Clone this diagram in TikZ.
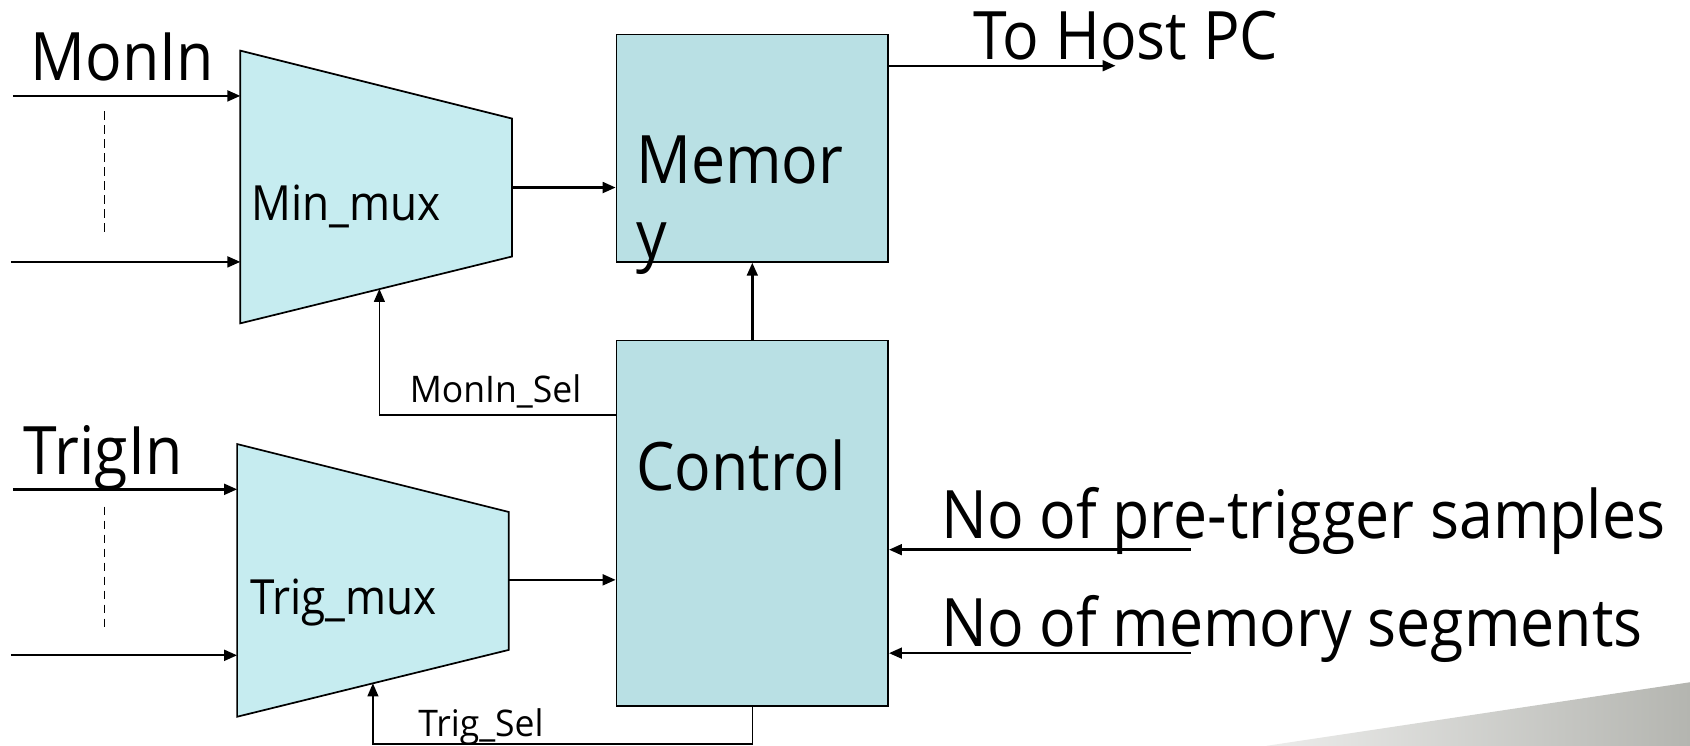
\documentclass[tikz,border=0pt]{standalone}
\usepackage{fontspec}
\setmainfont{Open Sans}[FakeStretch=0.91]
\newfontfamily\lblfont{Open Sans}[FakeStretch=0.97]
\usetikzlibrary{arrows.meta}
\definecolor{muxfill}{RGB}{198,236,240}
\definecolor{boxfill}{RGB}{185,224,228}
\definecolor{swoosh}{RGB}{180,181,176}
\tikzset{
  muxshape/.style={draw=black, line width=1.6pt, fill=muxfill, line join=miter},
  block/.style={draw=black, line width=1.6pt, fill=boxfill, rectangle, inner sep=0pt},
  wire/.style={line width=2.2pt, -{Triangle[length=12pt,width=10pt]}},
  selwire/.style={line width=1.4pt, -{Triangle[length=12pt,width=10pt]}},
  dots/.style={line width=1pt, dash pattern=on 8pt off 5pt},
  txt/.style={anchor=base west, inner sep=0pt, text=black},
  big/.style={txt, font=\fontsize{62}{70}\selectfont},
  mid/.style={txt, font=\fontsize{45}{50}\selectfont},
  small/.style={txt, font=\lblfont\fontsize{34}{38}\selectfont},
}
\begin{document}
\begin{tikzpicture}[x=1pt,y=1pt]
\useasboundingbox (0,0) rectangle (1568,692);

% decorative swoosh at the lower right
\shade[left color=swoosh!25, middle color=swoosh, right color=swoosh]
  (1175,0) -- (1568,59) -- (1568,0) -- cycle;

% input multiplexers
\path[muxshape] (223,645) -- (475,582) -- (475,454) -- (223,392) -- cycle;
\path[muxshape] (220,280) -- (472,217) -- (472,89) -- (220,27) -- cycle;
\coordinate (minin1) at (223,603);
\coordinate (minin2) at (223,449);
\coordinate (minout) at (475,518);
\coordinate (minsel) at (352,424);
\coordinate (trgin1) at (220,238);
\coordinate (trgin2) at (220,84);
\coordinate (trgout) at (472,154);
\coordinate (trgsel) at (346,58);

% memory and control blocks
\node[block, minimum width=252pt, minimum height=211pt] (mem) at (698,554.5) {};
\node[block, minimum width=252pt, minimum height=339pt] (ctl) at (698,206.5) {};

% labels
\node[big] (lmonin) at (28,617) {MonIn};
\node[big] (ltrigin) at (22,252) {TrigIn};
\node[mid] (lminmux) at (233,487) {Min\_mux};
\node[mid] (ltrgmux) at (232,122) {Trig\_mux};
\node[big] (lmem1) at (590,522) {Memor};
\node[big] (lmem2) at (590,452) {y};
\node[big] (lctl) at (590,237) {Control};
\node[big] (lhost) at (903,637) {To Host PC};
\node[small] (lmsel) at (380,319) {MonIn\_Sel};
\node[small] (ltsel) at (388,9) {Trig\_Sel};
\node[big] (lpre) at (873,192) {No of pre-trigger samples};
\node[big] (lseg) at (873,92) {No of memory segments};

% input lines
\coordinate (a1) at (12,603);
\coordinate (a2) at (10,449);
\coordinate (b1) at (12,238);
\coordinate (b2) at (10,84);
\draw[wire] (a1) -- (minin1);
\draw[wire] (a2) -- (minin2);
\draw[wire] (b1) -- (trgin1);
\draw[wire] (b2) -- (trgin2);
\draw[dots] (97,589) -- (97,474);
\draw[dots] (97,222) -- (97,107);

% data paths
\draw[wire] (minout) -- (minout -| mem.west);
\draw[wire] (trgout) -- (trgout -| ctl.west);
\draw[wire] (ctl.north) -- (mem.south);
\coordinate (host) at (1035,631);
\draw[wire] (mem.east |- host) -- (host);

% select lines
\draw[selwire] (ctl.west |- 0,307) -| (minsel);
\draw[selwire] (ctl.south) -- (698,1.5) -| (trgsel);

% parameter inputs
\coordinate (p1) at (1105,182);
\coordinate (p2) at (1105,86);
\draw[wire] (p1) -- (p1 -| ctl.east);
\draw[wire] (p2) -- (p2 -| ctl.east);
\end{tikzpicture}
\end{document}
